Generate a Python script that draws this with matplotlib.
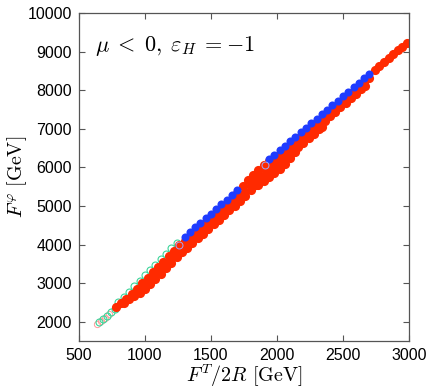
import matplotlib
matplotlib.use("Agg")
import matplotlib.pyplot as plt

# scan points (GeV)
blue_x = [1300, 1340, 1380, 1420, 1460, 1500, 1540, 1580, 1620, 1660, 1700,
          1940, 1980, 2020, 2060, 2100, 2140, 2180, 2220, 2260, 2300, 2340,
          2380, 2420, 2460, 2500, 2540, 2580, 2620, 2660, 2700]
blue_y = [4205, 4325, 4445, 4565, 4685, 4805, 4925, 5045, 5165, 5285, 5405,
          6219, 6336, 6452, 6568, 6685, 6801, 6918, 7034, 7150, 7267, 7383,
          7500, 7616, 7732, 7849, 7965, 8082, 8198, 8315, 8431]

red1_x = [780, 820, 860, 900, 940, 980, 1020, 1060, 1100, 1140, 1180, 1220,
          1260, 1300, 1340, 1380, 1420, 1460, 1500, 1540, 1580, 1620, 1660,
          1700, 1740, 1780, 1820, 1860, 1900, 1940, 1980, 2020, 2060, 2100,
          2140, 2180, 2220, 2260, 2300, 2340, 2380, 2420, 2460, 2500, 2540,
          2580, 2620, 2660, 2700, 2740, 2775, 2810, 2845, 2880, 2915, 2950, 2985]
red1_y = [2380, 2480, 2580, 2720, 2860, 3000, 3140, 3280, 3420, 3560, 3700, 3840,
          3980, 4105, 4225, 4345, 4465, 4585, 4705, 4825, 4945, 5065, 5185,
          5345, 5518, 5665, 5802, 5940, 6077, 6159, 6236, 6352, 6468, 6585,
          6701, 6818, 6934, 7050, 7167, 7283, 7400, 7516, 7632, 7749, 7865,
          7982, 8098, 8215, 8331, 8540, 8640, 8740, 8840, 8935, 9035, 9135, 9235]

red2_x = [840, 880, 920, 960, 1000, 1040, 1080, 1120, 1160, 1200, 1240, 1280,
          1320, 1360, 1400, 1440, 1480, 1520, 1560, 1600, 1640, 1680, 1720,
          1760, 1800, 1840, 1880, 1920, 1960, 2000, 2040, 2080, 2120, 2160,
          2200, 2240, 2280, 2320, 2360, 2400, 2440, 2480, 2520, 2560, 2600,
          2640, 2667]
red2_y = [2480, 2580, 2680, 2800, 2940, 3080, 3220, 3360, 3500, 3640, 3780, 3915,
          4035, 4155, 4275, 4395, 4515, 4635, 4755, 4875, 4995, 5115, 5239,
          5376, 5514, 5651, 5788, 5925, 6047, 6164, 6280, 6397, 6513, 6629,
          6746, 6862, 6979, 7095, 7212, 7328, 7444, 7561, 7677, 7794, 7910,
          8026, 8106]

red3_x = [960, 1000, 1040, 1080, 1120, 1160, 1200, 1240, 1280, 1320, 1360,
          1400, 1440, 1480, 1520, 1560, 1600, 1640, 1680, 1720, 1760, 1800,
          1840, 1880, 1920, 1960, 2000, 2040, 2080, 2120, 2160, 2200, 2240,
          2280, 2320, 2340]
red3_y = [2750, 2850, 2970, 3110, 3250, 3390, 3530, 3670, 3805, 3925, 4045,
          4165, 4285, 4405, 4525, 4645, 4765, 4885, 5005, 5129, 5266, 5404,
          5541, 5678, 5815, 5937, 6054, 6170, 6287, 6403, 6519, 6636, 6752,
          6869, 6985, 7043]

red4_x = [1860, 1900, 1940, 1980, 2020, 2060, 2100, 2140]
red4_y = [5550, 5637, 5749, 5856, 5972, 6098, 6245, 6401]

green_x = [655, 685, 715, 745, 770, 800, 840, 880, 920, 960, 1000, 1040,
           1080, 1120, 1160, 1200, 1240]
green_y = [1990, 2070, 2160, 2250, 2330, 2500, 2640, 2780, 2920, 3060, 3200,
           3340, 3480, 3620, 3760, 3900, 4040]

pink_x = [640, 670, 700, 730]
pink_y = [1930, 2020, 2110, 2200]

open_blue_x = [1258, 1909]
open_blue_y = [4000, 6063]

plt.rcParams['mathtext.fontset'] = 'cm'
plt.rcParams['font.family'] = ['Liberation Sans', 'DejaVu Sans']

fig = plt.figure(figsize=(4.31, 3.88), dpi=100)
ax = fig.add_axes([0.183, 0.121, 0.766, 0.845])

red = '#ff2a00'
blue = '#1f3cff'

ax.plot(pink_x, pink_y, 'o', ms=4.5, mfc='none', mec='#ff9a9a', mew=0.7, zorder=1)
ax.plot(green_x, green_y, 'o', ms=5, mfc='none', mec='#3cd49a', mew=0.8, zorder=1)
for xs, ys in [(red4_x, red4_y), (red3_x, red3_y), (red2_x, red2_y), (red1_x, red1_y)]:
    ax.plot(xs, ys, 'o', ms=6.6, color=red, mec='none', zorder=2)
ax.plot(blue_x, blue_y, 'o', ms=5.8, color=blue, mec='none', zorder=3)
ax.plot(open_blue_x, open_blue_y, 'o', ms=5, mfc='none', mec='#9fa8ff', mew=0.7, zorder=4)

ax.set_xlim(500, 3000)
ax.set_ylim(1500, 10000)
ax.set_xticks([500, 1000, 1500, 2000, 2500, 3000])
ax.set_yticks([2000, 3000, 4000, 5000, 6000, 7000, 8000, 9000, 10000])
ax.tick_params(direction='in', top=True, right=True, length=4, width=0.8,
               color='#555555', labelsize=11.5, pad=5)
for s in ax.spines.values():
    s.set_color('#555555')
    s.set_linewidth(0.9)

ax.set_xlabel(r'$F^T/2R\ [\mathrm{GeV}]$', fontsize=14.5)
ax.xaxis.set_label_coords(0.5, -0.066)
ax.set_ylabel(r'$F^\varphi\ [\mathrm{GeV}]$', fontsize=14.5, labelpad=-1)
ax.text(0.05, 0.90, r'$\mu\;<\;0,\;\varepsilon_H\;=-1$', transform=ax.transAxes,
        fontsize=16, va='center')

fig.savefig('out.png', dpi=100)
